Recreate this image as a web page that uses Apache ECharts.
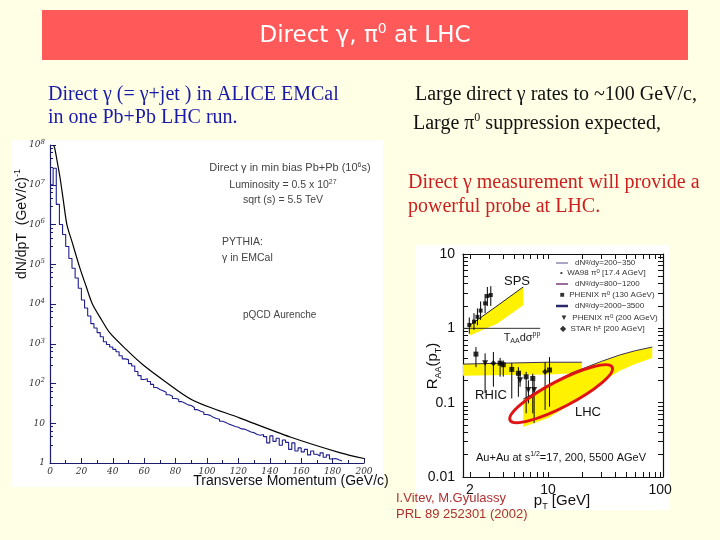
<!DOCTYPE html>
<html><head><meta charset="utf-8">
<script src="https://cdn.jsdelivr.net/npm/echarts@6/dist/echarts.min.js"></script>
<style>html,body{margin:0;padding:0;background:#FFFFE6;}#c{width:720px;height:540px;}</style>
</head><body><div id="c"></div>
<script>
// ---------- Left chart: direct photon spectrum ----------
const pqcdPt = [2.2, 3, 4.5, 6.4, 8.5, 10.8, 14, 19, 23, 27, 33, 38, 49, 59, 72, 91, 121, 153, 185, 200];
const pqcdY  = [1.0e8, 8.3e7, 4.0e7, 1.5e7, 4.0e6, 9.8e5, 3.7e5, 8.1e4, 2.8e4, 1.0e4, 3.9e3, 1.9e3, 690, 300, 123, 38, 13.5, 4.5, 1.8, 1.3];
const pythiaBinStart = 0, pythiaBinWidth = 2;
const pythiaCounts = [1.0e7, 2.6e7, 3.2e6, 1.0e6, 5.6e5, 2.8e5, 1.4e5, 7.9e4, 4.5e4, 2.5e4,
  1.26e4, 7.9e3, 5.0e3, 3.2e3, 2.5e3, 1.9e3, 1.5e3, 1.12e3, 955, 832,
  724, 631, 501, 417, 398, 316, 275, 200, 158, 126,
  132, 112, 95, 79, 71, 66, 60, 52, 48, 42,
  40, 35, 32, 29, 28, 25, 22, 20, 19, 16.6,
  15.8, 14.1, 13.2, 12.6, 11.2, 10.5, 9.5, 8.9, 8.3, 7.9,
  7.2, 7.1, 6.6, 6.0, 5.8, 5.2, 5.0, 5.2, 4.6, 3.2,
  4.8, 3.5, 4.2, 2.8, 3.8, 3.3, 2.2, 3.2, 2.0, 2.4,
  1.9, 2.2, 1.6, 2.0, 1.66, 1.5, 1.8, 1.4, 1.6, 1.26,
  1.3, 1.2, 1.12];

// ---------- Right chart: R_AA(pT) ----------
const spsBandPt = [2.0, 3.5, 6.0];
const spsBandLow = [0.8, 1.15, 2.05];
const spsBandHigh = [1.1, 2.0, 3.6];
const rhicBandPt = [1.74, 4, 10, 20];
const rhicBandLow = [0.23, 0.235, 0.24, 0.25];
const rhicBandHigh = [0.33, 0.34, 0.35, 0.35];
const lhcBandPt = [6, 10, 16, 22, 30, 44, 60, 85];
const lhcBandLow = [0.047, 0.062, 0.095, 0.13, 0.19, 0.27, 0.33, 0.40];
const lhcBandHigh = [0.112, 0.167, 0.25, 0.30, 0.36, 0.44, 0.50, 0.56];

const wa98Pt = [1.98, 2.18, 2.34, 2.5, 2.74, 2.87, 3.08];
const wa98R  = [1.11, 1.23, 1.43, 1.73, 2.17, 2.72, 2.81];
const wa98Lo = [0.85, 0.95, 1.1, 1.3, 1.6, 2.0, 2.0];
const wa98Hi = [1.4, 1.6, 1.85, 2.3, 2.9, 3.6, 3.7];

const phx130Pt = [2.27, 3.73, 3.98, 4.74, 5.43, 6.37, 7.3, 10.3];
const phx130R  = [0.45, 0.34, 0.324, 0.28, 0.248, 0.223, 0.212, 0.275];
const phx130Lo = [0.30, 0.224, 0.224, 0.114, 0.12, 0.072, 0.072, 0.088];
const phx130Hi = [0.56, 0.40, 0.37, 0.34, 0.30, 0.26, 0.245, 0.41];
const phx200Pt = [2.74, 5.62, 6.67, 7.5];
const phx200R  = [0.338, 0.20, 0.148, 0.148];
const phx200Lo = [0.135, 0.164, 0.098, 0.053];
const phx200Hi = [0.46, 0.27, 0.20, 0.20];
const starPt = [3.25, 9.4];
const starR  = [0.338, 0.26];
const starLo = [0.164, 0.080];
const starHi = [0.48, 0.35];

const unityLinePt = [1.74, 8.5];
const unityLineR = [1, 1];
const lhcEllipseEnds = [[4.58, 0.058], [37.3, 0.30]];

const rightXTicks = [2,3,4,5,6,7,8,9,10,20,30,40,50,60,70,80,90,100];
const rightXLabels = [2, 10, 100];
const rightYTicks = [0.02,0.03,0.04,0.05,0.06,0.07,0.08,0.09,0.1,0.2,0.3,0.4,0.5,0.6,0.7,0.8,0.9,1,2,3,4,5,6,7,8,9,10];
const rightYLabels = [0.01, 0.1, 1, 10];

// ---------- styling helpers ----------
const RX = 1, RY = 1;
const ELLIPSE_RY = 13;

function band(pts, lo, hi, fill, edge) {
  return {
    type: 'custom', xAxisIndex: RX, yAxisIndex: RY, silent: true, z: 3,
    data: [[pts[0], lo[0]]],
    renderItem: (p, api) => {
      const up = pts.map((x, i) => api.coord([x, hi[i]]));
      const dn = pts.map((x, i) => api.coord([x, lo[i]])).reverse();
      return { type: 'group', children: [
        { type: 'polygon', shape: { points: up.concat(dn) }, style: { fill: fill, stroke: 'none' } },
        { type: 'polyline', shape: { points: up }, style: { fill: 'none', stroke: edge, lineWidth: 1 } }
      ]};
    }
  };
}
function errBars(pts, lo, hi) {
  return {
    type: 'custom', xAxisIndex: RX, yAxisIndex: RY, silent: true, z: 5,
    data: pts.map((x, i) => [x, lo[i], hi[i]]),
    encode: { x: 0, y: [1, 2] },
    renderItem: (p, api) => {
      const a = api.coord([api.value(0), api.value(1)]);
      const b = api.coord([api.value(0), api.value(2)]);
      return { type: 'line', shape: { x1: a[0], y1: a[1], x2: b[0], y2: b[1] }, style: { stroke: '#000', lineWidth: 1 } };
    }
  };
}
function markers(pts, r, symbol, size, rot) {
  return {
    type: 'scatter', xAxisIndex: RX, yAxisIndex: RY, z: 6, silent: true,
    symbol: symbol, symbolSize: size, symbolRotate: rot || 0,
    itemStyle: { color: '#000' },
    data: pts.map((x, i) => [x, r[i]])
  };
}
function legRich() {
  return { a: { fontSize: 8, fontFamily: 'Liberation Sans', fill: '#333', lineHeight: 10 },
           c: { fontSize: 6, fontFamily: 'Liberation Sans', fill: '#333', verticalAlign: 'top', lineHeight: 10 } };
}
function smallRich(size) {
  return { a: { fontSize: size, fontFamily: 'Liberation Sans', fill: '#444', lineHeight: 13 },
           s: { fontSize: 7, fontFamily: 'Liberation Sans', fill: '#444', verticalAlign: 'top', lineHeight: 13 } };
}

const supL = n => '{b|10}{s|' + n + '}';
const leftRich = {
  b: { fontSize: 9, fontStyle: 'italic', fontFamily: 'DejaVu Serif', color: '#333' },
  s: { fontSize: 7, fontStyle: 'italic', fontFamily: 'DejaVu Serif', color: '#333', verticalAlign: 'bottom', padding: [0, 0, 6, 0] }
};
const SERIF20 = '20px "Liberation Serif"';

const option = {
  animation: false,
  backgroundColor: '#FFFFE6',
  grid: [
    { left: 50, right: 356, top: 145, bottom: 77 },
    { left: 463, right: 57, top: 254, bottom: 63 }
  ],
  xAxis: [
    { type: 'value', gridIndex: 0, min: 0, max: 200, interval: 20,
      axisLine: { lineStyle: { color: '#1c1c6c', width: 1.2 } },
      axisTick: { inside: true, length: 5, lineStyle: { color: '#1c1c6c' } },
      minorTick: { show: true, splitNumber: 2, length: 3, lineStyle: { color: '#1c1c6c' } },
      splitLine: { show: false },
      axisLabel: { margin: 4, fontSize: 9, fontStyle: 'italic', fontFamily: 'DejaVu Serif', color: '#333' } },
    { type: 'log', gridIndex: 1, min: 1.74, max: 106, position: 'bottom',
      axisLine: { onZero: false, lineStyle: { color: '#111', width: 1.2 } },
      axisTick: { inside: true, length: 5, customValues: rightXTicks, lineStyle: { color: '#111' } },
      axisLabel: { customValues: rightXLabels, margin: 6, fontSize: 14, fontFamily: 'Liberation Sans', color: '#111' },
      splitLine: { show: false }, minorTick: { show: false } },
    { type: 'log', gridIndex: 1, min: 1.74, max: 106, position: 'top',
      axisLine: { onZero: false, lineStyle: { color: '#111', width: 1.2 } },
      axisTick: { inside: true, length: 5, customValues: rightXTicks, lineStyle: { color: '#111' } },
      axisLabel: { show: false }, splitLine: { show: false } }
  ],
  yAxis: [
    { type: 'log', gridIndex: 0, min: 1, max: 1e8, interval: 1, logBase: 10,
      axisLine: { show: true, lineStyle: { color: '#1c1c6c', width: 1.2 } },
      axisTick: { show: true, inside: true, length: 6, lineStyle: { color: '#1c1c6c' } },
      minorTick: { show: true, splitNumber: 5, length: 3, lineStyle: { color: '#1c1c6c' } },
      splitLine: { show: false },
      axisLabel: { margin: 5, rich: leftRich,
        formatter: v => { const e = Math.round(Math.log10(v)); return e === 0 ? '{b|1}' : (e === 1 ? '{b|10}' : supL(e)); } } },
    { type: 'log', gridIndex: 1, min: 0.01, max: 10, position: 'left',
      axisLine: { show: true, onZero: false, lineStyle: { color: '#111', width: 1.2 } },
      axisTick: { show: true, inside: true, length: 5, customValues: rightYTicks, lineStyle: { color: '#111' } },
      axisLabel: { customValues: rightYLabels, margin: 8, fontSize: 14, fontFamily: 'Liberation Sans', color: '#111',
        formatter: v => String(v) },
      splitLine: { show: false } },
    { type: 'log', gridIndex: 1, min: 0.01, max: 10, position: 'right',
      axisLine: { show: true, onZero: false, lineStyle: { color: '#111', width: 1.2 } },
      axisTick: { show: true, inside: true, length: 5, customValues: rightYTicks, lineStyle: { color: '#111' } },
      axisLabel: { show: false }, splitLine: { show: false } }
  ],
  series: [
    { type: 'line', xAxisIndex: 0, yAxisIndex: 0, name: 'PYTHIA', step: 'end', symbol: 'none', silent: true,
      lineStyle: { color: '#1e1e90', width: 1.1 },
      data: pythiaCounts.map((v, i) => [pythiaBinStart + i * pythiaBinWidth, v])
        .concat([[pythiaBinStart + pythiaCounts.length * pythiaBinWidth, pythiaCounts[pythiaCounts.length - 1]]]) },
    { type: 'line', xAxisIndex: 0, yAxisIndex: 0, name: 'pQCD', smooth: 0.3, symbol: 'none', silent: true,
      lineStyle: { color: '#000', width: 1.2 },
      data: pqcdPt.map((x, i) => [x, pqcdY[i]]) },

    band(rhicBandPt, rhicBandLow, rhicBandHigh, '#FFF200', '#3a3050'),
    band(spsBandPt, spsBandLow, spsBandHigh, '#FFF200', '#222'),
    band(lhcBandPt, lhcBandLow, lhcBandHigh, '#FFF200', '#3a3050'),
    { type: 'line', xAxisIndex: RX, yAxisIndex: RY, symbol: 'none', silent: true, z: 4,
      lineStyle: { color: '#333', width: 1 }, data: unityLinePt.map((x, i) => [x, unityLineR[i]]) },
    errBars(wa98Pt, wa98Lo, wa98Hi),
    errBars(phx130Pt, phx130Lo, phx130Hi),
    errBars(phx200Pt, phx200Lo, phx200Hi),
    errBars(starPt, starLo, starHi),
    markers(wa98Pt, wa98R, 'rect', 4),
    markers(phx130Pt, phx130R, 'rect', 5),
    markers(phx200Pt, phx200R, 'triangle', 6, 180),
    markers(starPt, starR, 'diamond', 6),
    { type: 'custom', xAxisIndex: RX, yAxisIndex: RY, silent: true, z: 8, clip: false,
      data: [[lhcEllipseEnds[0][0], lhcEllipseEnds[0][1], lhcEllipseEnds[1][0], lhcEllipseEnds[1][1]]],
      encode: { x: [0, 2], y: [1, 3] },
      renderItem: (p, api) => {
        const a = api.coord([api.value(0), api.value(1)]);
        const b = api.coord([api.value(2), api.value(3)]);
        const cx = (a[0] + b[0]) / 2, cy = (a[1] + b[1]) / 2;
        const len = Math.hypot(b[0] - a[0], b[1] - a[1]);
        const ang = Math.atan2(b[1] - a[1], b[0] - a[0]);
        return { type: 'ellipse', x: cx, y: cy, rotation: -ang,
          shape: { cx: 0, cy: 0, rx: len / 2, ry: ELLIPSE_RY },
          style: { fill: 'none', stroke: '#E01414', lineWidth: 3 } };
      } }
  ],
  graphic: [
    { type: 'rect', z: -20, shape: { x: 42, y: 10, width: 646, height: 50 }, style: { fill: '#FF5959' } },
    { type: 'rect', z: -20, shape: { x: 11, y: 140, width: 372, height: 347 }, style: { fill: '#FFFFFF' } },
    { type: 'rect', z: -20, shape: { x: 415, y: 245, width: 255, height: 265 }, style: { fill: '#FFFFFF' } },
    { type: 'text', z: 50, x: 365, y: 36, style: { text: '{a|Direct γ, π}{s|0}{a| at LHC}', align: 'center', verticalAlign: 'middle',
      rich: { a: { fontSize: 23, fontFamily: 'DejaVu Sans', fill: '#fff', lineHeight: 28 },
              s: { fontSize: 14, fontFamily: 'DejaVu Sans', fill: '#fff', verticalAlign: 'top', lineHeight: 28 } } } },
    { type: 'text', z: 50, x: 48, y: 95, style: { text: 'Direct γ (= γ+jet ) in ALICE EMCal', font: SERIF20, fill: '#1a1aa8', verticalAlign: 'middle' } },
    { type: 'text', z: 50, x: 48, y: 118, style: { text: 'in one Pb+Pb LHC run.', font: SERIF20, fill: '#1a1aa8', verticalAlign: 'middle' } },
    { type: 'text', z: 50, x: 415, y: 95, style: { text: 'Large direct γ rates to ~100 GeV/c,', font: SERIF20, fill: '#111', verticalAlign: 'middle' } },
    { type: 'text', z: 50, x: 413, y: 124, style: { text: '{a|Large π}{s|0}{a| suppression expected,}', verticalAlign: 'middle',
      rich: { a: { fontSize: 20, fontFamily: 'Liberation Serif', fill: '#111', lineHeight: 24 },
              s: { fontSize: 12, fontFamily: 'Liberation Serif', fill: '#111', verticalAlign: 'top', lineHeight: 24 } } } },
    { type: 'text', z: 50, x: 408, y: 183, style: { text: 'Direct γ measurement will provide a', font: SERIF20, fill: '#CC2020', verticalAlign: 'middle' } },
    { type: 'text', z: 50, x: 408, y: 207, style: { text: 'powerful probe at LHC.', font: SERIF20, fill: '#CC2020', verticalAlign: 'middle' } },
    { type: 'text', z: 50, x: 396, y: 498, style: { text: 'I.Vitev, M.Gyulassy', font: '13px "Liberation Sans"', fill: '#B03030', verticalAlign: 'middle' } },
    { type: 'text', z: 50, x: 396, y: 514, style: { text: 'PRL 89 252301 (2002)', font: '13px "Liberation Sans"', fill: '#B03030', verticalAlign: 'middle' } },

    // left chart annotations
    { type: 'text', z: 50, x: 22, y: 224, rotation: Math.PI / 2, style: { text: '{a|dN/dpT  (GeV/c)}{s|-1}', align: 'center', verticalAlign: 'middle',
      rich: { a: { fontSize: 14, fontFamily: 'Liberation Sans', fill: '#111', lineHeight: 18 },
              s: { fontSize: 9, fontFamily: 'Liberation Sans', fill: '#111', verticalAlign: 'top', lineHeight: 18 } } } },
    { type: 'text', z: 50, x: 291, y: 481, style: { text: 'Transverse Momentum (GeV/c)', font: '14px "Liberation Sans"', fill: '#111', align: 'center', verticalAlign: 'middle' } },
    { type: 'text', z: 50, x: 290, y: 168, style: { text: '{a|Direct γ in min bias Pb+Pb (10}{s|6}{a|s)}', align: 'center', verticalAlign: 'middle', rich: smallRich(11) } },
    { type: 'text', z: 50, x: 283, y: 185, style: { text: '{a|Luminosity = 0.5 x 10}{s|27}', align: 'center', verticalAlign: 'middle', rich: smallRich(10.5) } },
    { type: 'text', z: 50, x: 283, y: 200, style: { text: 'sqrt (s) = 5.5 TeV', font: '10.5px "Liberation Sans"', fill: '#444', align: 'center', verticalAlign: 'middle' } },
    { type: 'text', z: 50, x: 222, y: 242, style: { text: 'PYTHIA:', font: '10.5px "Liberation Sans"', fill: '#444', verticalAlign: 'middle' } },
    { type: 'text', z: 50, x: 222, y: 258, style: { text: 'γ in EMCal', font: '10.5px "Liberation Sans"', fill: '#444', verticalAlign: 'middle' } },
    { type: 'text', z: 50, x: 243, y: 315, style: { text: 'pQCD Aurenche', font: '10px "Liberation Sans"', fill: '#444', verticalAlign: 'middle' } },

    // right chart annotations
    { type: 'text', z: 50, x: 433, y: 366, rotation: Math.PI / 2, style: { text: '{a|R}{b|AA}{a|(p}{b|T}{a|)}', align: 'center', verticalAlign: 'middle',
      rich: { a: { fontSize: 15, fontFamily: 'Liberation Sans', fill: '#111', lineHeight: 20 }, b: { fontSize: 9, fontFamily: 'Liberation Sans', fill: '#111', verticalAlign: 'bottom', lineHeight: 20 } } } },
    { type: 'text', z: 50, x: 562, y: 501, style: { text: '{a|p}{b|T}{a| [GeV]}', align: 'center', verticalAlign: 'middle',
      rich: { a: { fontSize: 15, fontFamily: 'Liberation Sans', fill: '#111', lineHeight: 20 }, b: { fontSize: 9, fontFamily: 'Liberation Sans', fill: '#111', verticalAlign: 'bottom', lineHeight: 20 } } } },
    { type: 'text', z: 50, x: 517, y: 281, style: { text: 'SPS', font: '13px "Liberation Sans"', fill: '#111', align: 'center', verticalAlign: 'middle' } },
    { type: 'text', z: 50, x: 491, y: 395, style: { text: 'RHIC', font: '13px "Liberation Sans"', fill: '#111', align: 'center', verticalAlign: 'middle' } },
    { type: 'text', z: 50, x: 588, y: 412, style: { text: 'LHC', font: '13px "Liberation Sans"', fill: '#111', align: 'center', verticalAlign: 'middle' } },
    { type: 'text', z: 50, x: 522, y: 338, style: { text: '{a|T}{b|AA}{a|dσ}{c|pp}', align: 'center', verticalAlign: 'middle',
      rich: { a: { fontSize: 11, fontFamily: 'Liberation Sans', fill: '#222', lineHeight: 14 }, b: { fontSize: 7, fontFamily: 'Liberation Sans', fill: '#222', verticalAlign: 'bottom', lineHeight: 14 }, c: { fontSize: 7, fontFamily: 'Liberation Sans', fill: '#222', verticalAlign: 'top', lineHeight: 14 } } } },
    { type: 'text', z: 50, x: 561, y: 458, style: { text: '{a|Au+Au at s}{c|1/2}{a|=17, 200, 5500 AGeV}', align: 'center', verticalAlign: 'middle',
      rich: { a: { fontSize: 11, fontFamily: 'Liberation Sans', fill: '#111', lineHeight: 14 }, c: { fontSize: 7, fontFamily: 'Liberation Sans', fill: '#111', verticalAlign: 'top', lineHeight: 14 } } } },

    // right legend
    { type: 'line', z: 50, shape: { x1: 556, y1: 263, x2: 568, y2: 263 }, style: { stroke: '#5a4a8a', lineWidth: 1 } },
    { type: 'line', z: 50, shape: { x1: 556, y1: 284, x2: 568, y2: 284 }, style: { stroke: '#7a3a7a', lineWidth: 1.5 } },
    { type: 'line', z: 50, shape: { x1: 556, y1: 306, x2: 568, y2: 306 }, style: { stroke: '#2a2a6a', lineWidth: 2.5 } },
    { type: 'text', z: 50, x: 575, y: 263, style: { text: '{a|dN}{c|g}{a|/dy=200−350}', verticalAlign: 'middle', rich: legRich() } },
    { type: 'text', z: 50, x: 560, y: 273, style: { text: '{a|•  WA98 π}{c|0}{a| [17.4 AGeV]}', verticalAlign: 'middle', rich: legRich() } },
    { type: 'text', z: 50, x: 575, y: 284, style: { text: '{a|dN}{c|g}{a|/dy=800−1200}', verticalAlign: 'middle', rich: legRich() } },
    { type: 'text', z: 50, x: 560, y: 295, style: { text: '{a|■  PHENIX π}{c|0}{a| (130 AGeV)}', verticalAlign: 'middle', rich: legRich() } },
    { type: 'text', z: 50, x: 575, y: 306, style: { text: '{a|dN}{c|g}{a|/dy=2000−3500}', verticalAlign: 'middle', rich: legRich() } },
    { type: 'text', z: 50, x: 560, y: 318, style: { text: '{a|▼  PHENIX π}{c|0}{a| (200 AGeV)}', verticalAlign: 'middle', rich: legRich() } },
    { type: 'text', z: 50, x: 560, y: 329, style: { text: '{a|◆  STAR h}{c|±}{a| [200 AGeV]}', verticalAlign: 'middle', rich: legRich() } }
  ]
};
const chart = echarts.init(document.getElementById('c'), null, { renderer: 'canvas', width: 720, height: 540 });
chart.setOption(option);
</script></body></html>
